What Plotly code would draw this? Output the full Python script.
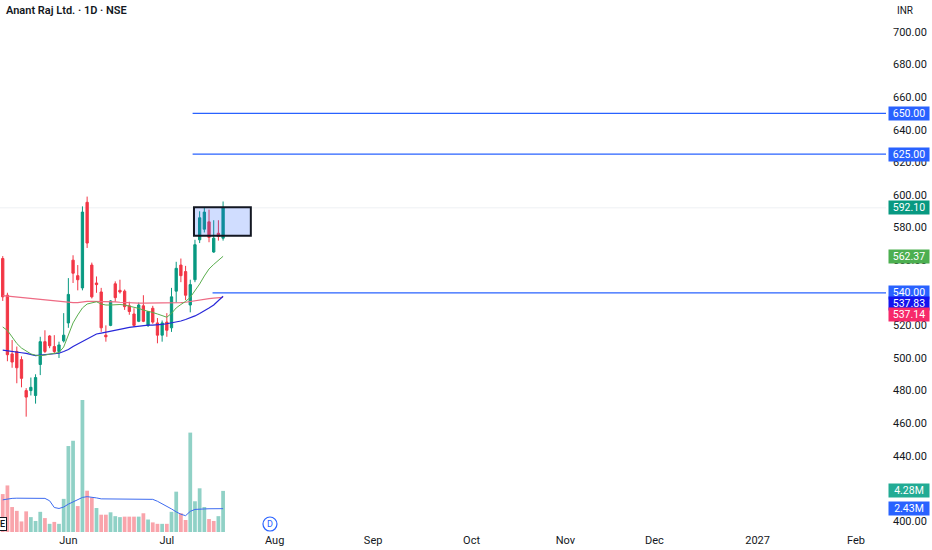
import pandas as pd
import plotly.graph_objects as go

# 日線資料 (Anant Raj Ltd. · 1D · NSE)
dates = [
    "2026-05-12", "2026-05-13", "2026-05-14", "2026-05-15", "2026-05-18", "2026-05-19",
    "2026-05-20", "2026-05-21", "2026-05-22", "2026-05-25", "2026-05-26", "2026-05-27",
    "2026-05-28", "2026-05-29",
    "2026-06-01", "2026-06-02", "2026-06-03", "2026-06-04", "2026-06-05", "2026-06-08",
    "2026-06-09", "2026-06-10", "2026-06-11", "2026-06-12", "2026-06-15", "2026-06-16",
    "2026-06-17", "2026-06-18", "2026-06-19", "2026-06-22", "2026-06-23", "2026-06-24",
    "2026-06-25", "2026-06-29", "2026-06-30",
    "2026-07-01", "2026-07-02", "2026-07-03", "2026-07-06", "2026-07-07", "2026-07-08",
    "2026-07-09", "2026-07-10", "2026-07-13", "2026-07-14", "2026-07-15", "2026-07-16",
    "2026-07-17",
]
opens = [
    561.0, 538.5, 502.5, 504.0, 499.0, 480.0, 480.0, 477.0, 496.0, 510.0,
    513.5, 507.0, 504.0, 510.5, 521.5, 560.0, 550.5, 543.0, 595.5, 557.0,
    546.0, 540.5, 514.0, 520.0, 545.5, 541.5, 541.0, 532.0, 527.0, 522.5,
    532.0, 520.0, 530.5, 521.5, 514.0, 522.0, 518.5, 541.0, 557.0, 553.0,
    532.5, 548.0, 572.5, 579.0, 583.5, 565.0, 576.5, 573.5,
]
highs = [
    562.5, 540.0, 511.0, 507.0, 501.0, 481.5, 488.0, 490.0, 513.0, 517.0,
    514.0, 514.0, 510.0, 527.5, 549.0, 563.0, 557.0, 593.0, 599.0, 558.5,
    550.0, 543.0, 520.0, 535.5, 547.0, 548.0, 542.0, 534.5, 530.5, 534.0,
    538.5, 526.0, 532.0, 524.5, 523.0, 527.5, 543.0, 559.0, 561.0, 556.5,
    548.0, 572.5, 590.0, 592.0, 591.0, 584.5, 584.5, 596.0,
]
lows = [
    535.0, 498.0, 494.0, 484.5, 482.0, 464.0, 477.0, 472.0, 489.5, 503.0,
    506.0, 503.0, 500.0, 509.5, 518.5, 546.0, 541.5, 541.5, 567.5, 536.5,
    540.0, 516.0, 510.0, 519.5, 534.5, 539.5, 529.5, 526.5, 519.0, 522.0,
    522.0, 519.0, 521.0, 509.0, 510.0, 513.0, 516.0, 534.0, 546.5, 535.5,
    528.0, 546.5, 570.5, 577.0, 571.0, 564.5, 572.0, 572.0,
]
closes = [
    537.5, 502.0, 497.5, 494.0, 487.5, 476.0, 482.0, 488.0, 510.0, 504.0,
    507.5, 504.0, 508.0, 514.0, 539.0, 552.0, 548.0, 589.5, 570.5, 537.5,
    545.0, 518.5, 513.0, 535.0, 537.0, 540.5, 531.5, 528.5, 520.0, 532.5,
    522.5, 528.5, 522.0, 514.0, 521.5, 517.0, 537.5, 555.0, 550.5, 538.5,
    545.0, 569.5, 586.0, 589.5, 574.0, 573.5, 574.5, 592.1,
]
# 成交量 (百萬股)
volumes = [
    3.95, 4.85, 2.6, 2.2, 1.1, 2.15, 1.55, 1.15, 2.1, 1.45,
    0.85, 1.05, 0.85, 3.45, 8.95, 9.5, 2.7, 13.75, 4.3, 3.6,
    2.5, 1.8, 1.8, 2.05, 1.65, 1.55, 1.6, 1.6, 1.6, 1.6,
    1.95, 1.3, 1.0, 0.85, 0.85, 0.85, 2.1, 4.2, 1.95, 1.25,
    10.35, 3.2, 4.55, 2.6, 1.35, 1.15, 1.65, 4.28,
]
volume_ma = [
    3.35, 3.45, 3.5, 3.52, 3.52, 3.5, 3.5, 3.5, 3.5, 3.5,
    3.25, 2.55, 2.45, 2.6, 2.9, 3.15, 3.35, 3.6, 3.68, 3.65,
    3.55, 3.45, 3.45, 3.44, 3.44, 3.44, 3.44, 3.44, 3.44, 3.44,
    3.44, 3.44, 3.4, 3.2, 2.95, 2.65, 2.4, 2.1, 1.85, 1.7,
    2.15, 2.35, 2.4, 2.4, 2.42, 2.42, 2.43, 2.43,
]
# 均線
ma_fast = [
    519.0, 516.9, 512.9, 508.9, 506.1, 504.3, 502.5, 501.7, 501.4, 501.8,
    502.3, 502.5, 503.4, 506.7, 514.1, 521.5, 526.4, 530.7, 533.1, 534.0,
    534.5, 533.1, 532.5, 532.5, 532.8, 532.8, 532.5, 531.9, 531.3, 530.4,
    529.4, 528.8, 527.9, 527.0, 525.8, 525.0, 527.4, 530.7, 532.8, 534.7,
    537.2, 541.1, 545.4, 550.3, 554.6, 557.4, 559.8, 562.37,
]
ma_mid = [
    504.8, 504.3, 503.9, 503.5, 503.2, 502.8, 502.1, 501.5, 501.8, 502.1,
    502.5, 502.6, 502.9, 504.0, 505.2, 507.1, 508.6, 510.1, 512.0, 513.5,
    514.7, 515.3, 515.8, 516.3, 516.9, 517.6, 518.2, 518.8, 519.2, 519.6,
    519.9, 520.2, 520.2, 520.2, 520.6, 521.0, 521.5, 522.1, 522.7, 523.6,
    524.5, 525.8, 527.3, 528.8, 530.7, 532.5, 535.0, 537.83,
]
ma_slow = [
    538.3, 538.0, 537.7, 537.4, 537.1, 536.8, 536.5, 536.2, 535.9, 535.6,
    535.3, 535.0, 534.7, 534.4, 534.2, 534.0, 534.0, 534.4, 534.7, 534.7,
    534.7, 534.7, 534.5, 534.4, 534.4, 534.2, 534.0, 533.9, 533.7, 533.7,
    533.7, 533.7, 533.7, 533.7, 533.7, 533.7, 533.7, 533.7, 533.9, 534.2,
    534.7, 535.1, 535.6, 536.0, 536.4, 536.7, 537.0, 537.14,
]

# 交易所休市日
holidays = ["2026-06-26", "2026-09-14", "2026-10-02", "2026-10-20",
            "2026-11-10", "2026-11-24", "2026-12-25"]

# 水平價位線與區間
level_prices = [650.0, 625.0, 540.0]
level_starts = ["2026-07-09", "2026-07-09", "2026-07-15 06:00"]
zone_low, zone_high = 575.0, 592.5
zone_start, zone_end = "2026-07-09 07:00", "2026-07-27 10:00"
dividend_date = "2026-07-31 12:00"

tick_dates = ["2026-06-01", "2026-07-01", "2026-08-03", "2026-09-01", "2026-10-01",
              "2026-11-02", "2026-12-01", "2027-01-01", "2027-02-01"]
tick_text = ["Jun", "Jul", "Aug", "Sep", "Oct", "Nov", "Dec", "2027", "Feb"]

UP, DOWN = "#089981", "#f23645"
FONT = "Roboto, Noto Sans, sans-serif"
TXT = "#131722"

x = pd.to_datetime(dates) + pd.Timedelta(hours=12)
ticks_x = pd.to_datetime(tick_dates) + pd.Timedelta(hours=12)
prev_close = [opens[0]] + closes[:-1]
vol_colors = ["rgba(8,153,129,0.45)" if c >= p else "rgba(242,54,69,0.45)"
              for c, p in zip(closes, prev_close)]

fig = go.Figure()

fig.add_trace(go.Bar(x=x, y=volumes, marker_color=vol_colors, marker_line_width=0,
                     yaxis="y2", hoverinfo="skip"))
fig.add_trace(go.Scatter(x=x, y=volume_ma, mode="lines", yaxis="y2",
                         line=dict(color="#3d6bf0", width=1), hoverinfo="skip"))

fig.add_trace(go.Scatter(x=x, y=ma_slow, mode="lines", line=dict(color="#ee6b84", width=1.2)))
fig.add_trace(go.Scatter(x=x, y=ma_mid, mode="lines", line=dict(color="#2727d9", width=1.2)))
fig.add_trace(go.Scatter(x=x, y=ma_fast, mode="lines", line=dict(color="#5aae4e", width=1)))

fig.add_trace(go.Candlestick(
    x=x, open=opens, high=highs, low=lows, close=closes,
    increasing=dict(line=dict(color=UP, width=1), fillcolor=UP),
    decreasing=dict(line=dict(color=DOWN, width=1), fillcolor=DOWN),
    whiskerwidth=0,
))

x_left = x[0] - pd.Timedelta(hours=14)
x_right = pd.Timestamp("2027-02-09 21:30")

shapes = [
    # 最新價格線
    dict(type="line", xref="paper", x0=0, x1=1, yref="y", y0=closes[-1], y1=closes[-1],
         line=dict(color="#eef0f3", width=1), layer="below"),
    dict(type="rect", xref="x", x0=zone_start, x1=zone_end, yref="y", y0=zone_low, y1=zone_high,
         fillcolor="rgba(41,98,255,0.22)", line=dict(color="#131722", width=2)),
    dict(type="circle", xref="x", xsizemode="pixel", xanchor=dividend_date, x0=-7, x1=7,
         yref="paper", ysizemode="pixel", yanchor=0.015, y0=-7, y1=7,
         line=dict(color="#2962ff", width=1.2), fillcolor="white"),
]
for p, s in zip(level_prices, level_starts):
    shapes.append(dict(type="line", xref="x", x0=s, x1=x_right, yref="y", y0=p, y1=p,
                       line=dict(color="#2962ff", width=1.3)))


def tag(val, color, yref="y", shift=0, text=None):
    return dict(xref="paper", x=1, xanchor="left", xshift=2, yref=yref, y=val,
                yanchor="middle", yshift=shift, text=text or f"{val:.2f}", showarrow=False,
                bgcolor=color, width=38, height=11, align="center", valign="middle",
                borderpad=1, font=dict(color="white", size=10.5, family=FONT))


annotations = [
    tag(level_prices[0], "#2962ff"),
    tag(level_prices[1], "#2962ff"),
    tag(closes[-1], UP),
    tag(ma_fast[-1], "#4caf50"),
    tag(level_prices[2], "#2962ff"),
    tag(ma_mid[-1], "#1414ee", shift=-7),
    tag(ma_slow[-1], "#f7296a", shift=-17),
    tag(volumes[-1], "#22ab94", yref="y2", text=f"{volumes[-1]:.2f}M"),
    tag(volume_ma[-1], "#2962ff", yref="y2", text=f"{volume_ma[-1]:.2f}M"),
    dict(xref="paper", x=0, xanchor="left", xshift=4, yref="paper", y=1, yanchor="top",
         yshift=-2, text="Anant Raj Ltd. · 1D · NSE", showarrow=False,
         font=dict(size=11, color=TXT, family=FONT, weight=600)),
    dict(xref="paper", x=1, xanchor="left", xshift=9, yref="paper", y=1, yanchor="top",
         yshift=-3, text="INR", showarrow=False, font=dict(size=10, color=TXT, family=FONT)),
    dict(xref="x", x=x[0], xanchor="center", yref="paper", y=0.015, yanchor="middle",
         text="E", showarrow=False, bgcolor="white", bordercolor=TXT, borderwidth=1,
         borderpad=1, font=dict(size=9, color=TXT, family=FONT, weight=600)),
    dict(xref="x", x=dividend_date, xanchor="center", yref="paper", y=0.015, yanchor="middle",
         text="D", showarrow=False, font=dict(size=9, color="#2962ff", family=FONT)),
]

fig.update_layout(
    width=932, height=550,
    margin=dict(l=0, r=46, t=0, b=18),
    paper_bgcolor="white", plot_bgcolor="white",
    showlegend=False, bargap=0.2,
    font=dict(family=FONT, size=11, color=TXT),
    xaxis=dict(
        range=[x_left, x_right],
        rangebreaks=[dict(bounds=["sat", "mon"]), dict(values=holidays)],
        rangeslider=dict(visible=False),
        tickvals=ticks_x, ticktext=tick_text,
        showgrid=False, zeroline=False, showline=False, ticks="",
        tickfont=dict(size=11, color=TXT),
    ),
    yaxis=dict(
        side="right", range=[393.25, 719.6], tickmode="linear", tick0=400, dtick=20,
        tickformat=".2f", showgrid=False, zeroline=False, showline=False, ticks="",
        ticklabelstandoff=6, tickfont=dict(size=11, color=TXT),
    ),
    yaxis2=dict(overlaying="y", range=[0, 55.4], visible=False, fixedrange=True),
    shapes=shapes,
    annotations=annotations,
)

# 去掉頁面預設邊距，讓圖表貼齊視窗
fig.write_html("out.html", config={"displayModeBar": False},
               post_script="document.body.style.margin='0';document.body.style.overflow='hidden';")
